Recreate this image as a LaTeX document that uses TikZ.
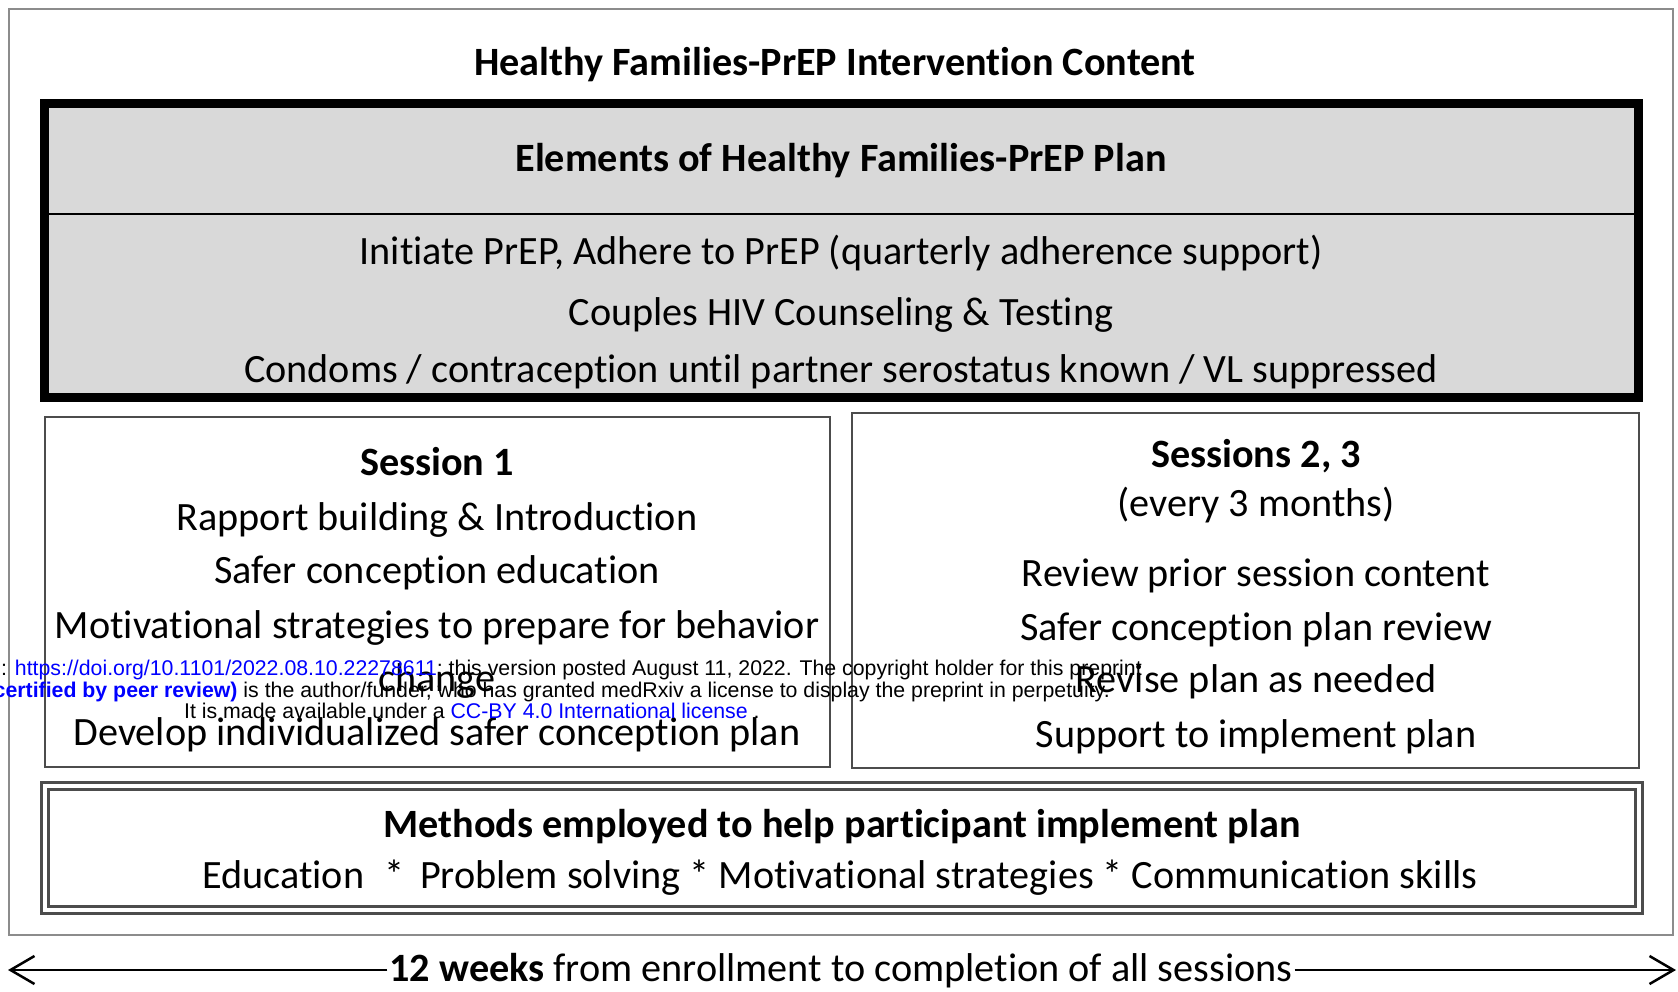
\documentclass[tikz,border=0pt]{standalone}
\usepackage{fontspec}
\setmainfont{Carlito}[RawFeature={-liga;-clig;-calt;-rlig}]
\newfontfamily\wmfont{Liberation Sans}
\usepackage{tikz}
\usetikzlibrary{arrows.meta}
\definecolor{planfill}{gray}{0.85}
\definecolor{linkblue}{rgb}{0,0,1}
\tikzset{
  txt/.style={inner sep=0pt, anchor=base, font=\fontsize{40.2}{48}\selectfont},
  hd/.style={txt, font=\fontsize{40.2}{48}\selectfont\bfseries},
  wm/.style={inner sep=0pt, font=\wmfont\fontsize{21.3}{21}\selectfont},
  sessbox/.style={draw=black!70, line width=2.5pt},
  timeline/.style={line width=2.5pt, -{Straight Barb[length=24pt,width=28pt]}}
}

\begin{document}
\begin{tikzpicture}[x=1pt,y=-1pt]
        \useasboundingbox (0,0) rectangle (1678,991);
        \clip (0,0) rectangle (1678,991);
        \fill[white] (0,0) rectangle (1678,991);
        % Boxes
        \draw[black!45, line width=2pt] (9,9) rectangle (1673,935);
        \fill[planfill] (44,103) rectangle (1638,397);
        \draw[line width=2pt] (44,214) -- (1638,214);
        \draw[line width=9pt] (44,103) rectangle (1638,397);
        \draw[sessbox] (45,417) rectangle (830,767);
        \draw[sessbox] (852,413) rectangle (1639,768);
        \draw[black!70, double, line width=2.5pt, double distance=4.5pt] (45,786) rectangle (1639,910);
        % Nodes
        \node[hd] (title) at (835,75) {Healthy Families-PrEP Intervention Content};
        \node[hd] (elem) at (841,171) {Elements of Healthy Families-PrEP Plan};
        \node[txt] (prep) at (841,264) {Initiate PrEP, Adhere to PrEP (quarterly adherence support)};
        \node[txt] (chct) at (841,325) {Couples HIV Counseling \& Testing};
        \node[txt] (cond) at (841,382) {Condoms / contraception until partner serostatus known / VL suppressed};
        \node[hd] (s1) at (437,475) {Session 1};
        \node[txt] (s1a) at (437,530) {Rapport building \& Introduction};
        \node[txt] (s1b) at (437,583) {Safer conception education};
        \node[txt] (s1c) at (437,638) {Motivational strategies to prepare for behavior};
        \node[txt] (s1d) at (437,691) {change};
        \node[txt] (s1e) at (437,745) {Develop individualized safer conception plan};
        \node[hd] (s2) at (1256,467) {Sessions 2, 3};
        \node[txt] (s2x) at (1256,516) {(every 3 months)};
        \node[txt] (s2a) at (1256,586) {Review prior session content};
        \node[txt] (s2b) at (1256,640) {Safer conception plan review};
        \node[txt] (s2c) at (1256,692) {Revise plan as needed};
        \node[txt] (s2d) at (1256,747) {Support to implement plan};
        \node[hd] (meth) at (842,837) {Methods employed to help participant implement plan};
        \node[txt] (methl) at (840,888) {Education\enspace * \,Problem solving * Motivational strategies * Communication skills};
        % Time line
        \node[txt, inner xsep=2pt] (weeks) at (841,981) {\textbf{12 weeks} from enrollment to completion of all sessions};
        \coordinate (start) at (8,970);
        \coordinate (end) at (1676,970);
        \draw[timeline] (weeks.west |- start) -- (start);
        \draw[timeline] (weeks.east |- end) -- (end);
        % Overlay
        \node[wm, anchor=base east] (wm1) at (1142,675) {: \textcolor{linkblue}{https://doi.org/10.1101/2022.08.10.22278611}; this version posted August 11, 2022. The copyright holder for this preprint};
        \node[wm, anchor=base east] (wm2) at (1110,697) {\textcolor{linkblue}{\bfseries certified by peer review)} is the author/funder, who has granted medRxiv a license to display the preprint in perpetuity.};
        \node[wm, anchor=base west] (wm3) at (184,718) {It is made available under a \textcolor{linkblue}{CC-BY 4.0 International license} .};
    \end{tikzpicture}
\end{document}
